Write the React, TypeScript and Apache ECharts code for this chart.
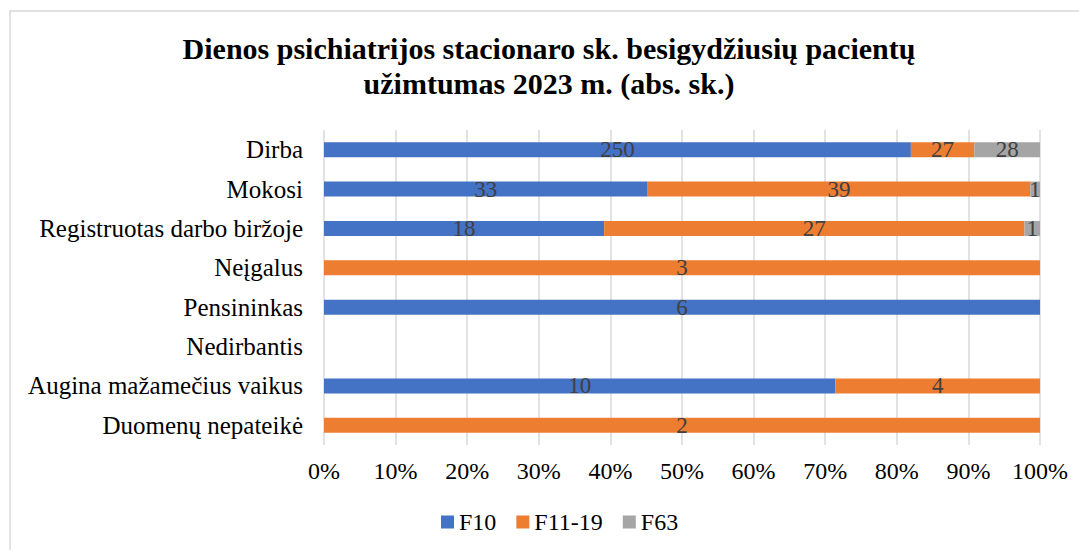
import React, { useEffect, useRef } from "react";
import * as echarts from "echarts";

const categories = [
  "Dirba",
  "Mokosi",
  "Registruotas darbo biržoje",
  "Neįgalus",
  "Pensininkas",
  "Nedirbantis",
  "Augina mažamečius vaikus",
  "Duomenų nepateikė",
];
const seriesNames = ["F10", "F11-19", "F63"];
const f10 = [250, 33, 18, 0, 6, 0, 10, 0];
const f11_19 = [27, 39, 27, 3, 0, 0, 4, 2];
const f63 = [28, 1, 1, 0, 0, 0, 0, 0];
const xTicks = [0, 10, 20, 30, 40, 50, 60, 70, 80, 90, 100];
const colors = ["#4472C4", "#ED7D31", "#A5A5A5"];

const FONT = "Liberation Serif";

export default function App() {
  const ref = useRef<HTMLDivElement>(null);
  useEffect(() => {
    if (!ref.current) return;
    const chart = echarts.init(ref.current, undefined, { renderer: "svg" });
    const raw = [f10, f11_19, f63];
    const totals = categories.map((_, i) => raw.reduce((s, arr) => s + arr[i], 0));
    const yCats = [...categories].reverse();
    const series = raw.map((arr, si) => {
      const data = [...arr]
        .map((v, i) => ({
          value: totals[i] ? (v / totals[i]) * 100 : 0,
          raw: v,
        }))
        .reverse();
      return {
        name: seriesNames[si],
        type: "bar",
        stack: "total",
        barWidth: 15,
        itemStyle: { color: colors[si] },
        label: {
          show: true,
          position: "inside",
          color: "#404040",
          fontFamily: FONT,
          fontSize: 23,
          formatter: (p: any) => (p.data.raw ? String(p.data.raw) : ""),
        },
        data,
      };
    });
    chart.setOption({
      animation: false,
      backgroundColor: "#ffffff",
      textStyle: { fontFamily: FONT },
      title: {
        text: "Dienos psichiatrijos stacionaro sk. besigydžiusių pacientų\nužimtumas 2023 m. (abs. sk.)",
        left: 544,
        textAlign: "center",
        top: 26,
        textStyle: {
          fontFamily: FONT,
          fontSize: 30,
          fontWeight: "bold",
          color: "#000000",
          lineHeight: 35,
        },
      },
      graphic: [
        {
          type: "rect",
          shape: { x: 10, y: 11, width: 1100, height: 600 },
          style: { fill: "none", stroke: "#d9d9d9", lineWidth: 1.5 },
          silent: true,
          z: -1,
        },
      ],
      legend: {
        top: 505,
        left: 436,
        itemWidth: 13,
        itemHeight: 13,
        itemGap: 20,
        icon: "rect",
        textStyle: { fontFamily: FONT, fontSize: 24, color: "#000000" },
        data: seriesNames,
      },
      grid: { left: 324, right: 39, top: 130, bottom: 105 },
      xAxis: {
        type: "value",
        min: 0,
        max: 100,
        interval: 10,
        axisLine: { show: false },
        axisTick: { show: false },
        splitLine: { show: true, lineStyle: { color: "#d9d9d9", width: 1.5 } },
        axisLabel: {
          fontFamily: FONT,
          fontSize: 24,
          color: "#000000",
          margin: 14,
          formatter: (v: number) => (xTicks.includes(v) ? v + "%" : ""),
        },
      },
      yAxis: {
        type: "category",
        data: yCats,
        axisLine: { show: false },
        axisTick: { show: false },
        axisLabel: {
          fontFamily: FONT,
          fontSize: 25,
          color: "#000000",
          margin: 21,
        },
      },
      series,
    });
    return () => chart.dispose();
  }, []);
  return (
    <div
      ref={ref}
      style={{ position: "fixed", left: 0, top: 0, width: 1079, height: 550 }}
    />
  );
}
